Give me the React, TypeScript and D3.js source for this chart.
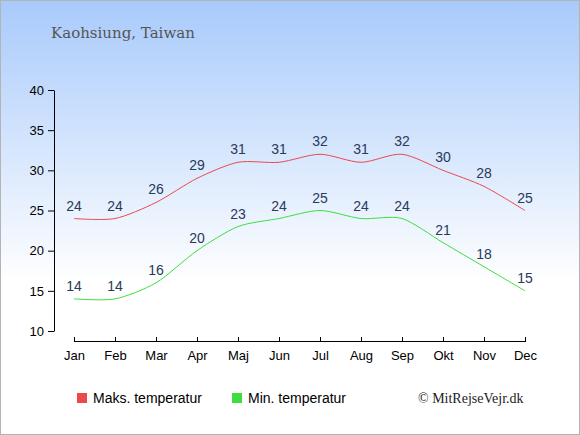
import React, { useEffect, useRef } from "react";
import * as d3 from "d3";

const months = ["Jan", "Feb", "Mar", "Apr", "Maj", "Jun", "Jul", "Aug", "Sep", "Okt", "Nov", "Dec"];
const maxTemps = [24, 24, 26, 29, 31, 31, 32, 31, 32, 30, 28, 25];
const minTemps = [14, 14, 16, 20, 23, 24, 25, 24, 24, 21, 18, 15];
const yTicks = [10, 15, 20, 25, 30, 35, 40];

const width = 580;
const height = 435;

const App: React.FC = () => {
  const svgRef = useRef<SVGSVGElement>(null);

  useEffect(() => {
    if (!svgRef.current) return;
    const svg = d3.select(svgRef.current);
    svg.selectAll("*").remove();

    // background gradient
    const defs = svg.append("defs");
    const grad = defs.append("linearGradient")
      .attr("id", "bg")
      .attr("x1", 0).attr("y1", 0).attr("x2", 0).attr("y2", 1);
    grad.append("stop").attr("offset", "0%").attr("stop-color", "#a8cafb");
    grad.append("stop").attr("offset", "65%").attr("stop-color", "#ffffff");
    grad.append("stop").attr("offset", "100%").attr("stop-color", "#ffffff");

    svg.append("rect")
      .attr("x", 0.5).attr("y", 0.5)
      .attr("width", width - 1).attr("height", height - 1)
      .attr("fill", "url(#bg)")
      .attr("stroke", "#b4b4b4")
      .attr("stroke-width", 1);

    svg.append("text")
      .attr("x", 51).attr("y", 38)
      .attr("font-family", "'DejaVu Serif', serif")
      .attr("font-size", 15)
      .attr("fill", "#555")
      .text("Kaohsiung, Taiwan");

    const x = d3.scalePoint<string>().domain(months).range([74, 525]);
    const y = d3.scaleLinear().domain([10, 40]).range([331, 90]);

    // y axis
    const yAxis = svg.append("g")
      .attr("transform", "translate(54,0)")
      .call(d3.axisLeft(y).tickValues(yTicks).tickSize(6).tickSizeOuter(0));
    yAxis.select(".domain").attr("stroke", "#000");
    yAxis.selectAll("text")
      .attr("font-family", "'Liberation Sans', Arial, sans-serif")
      .attr("font-size", 13)
      .attr("fill", "#000")
      .attr("dx", "-1");

    // x axis
    const xAxis = svg.append("g")
      .attr("transform", "translate(0,341)")
      .call(d3.axisBottom(x).tickSize(5).tickSizeOuter(0));
    xAxis.select(".domain").attr("d", `M${x("Jan")},0.5H${x("Dec")}`).attr("stroke", "#000");
    xAxis.selectAll("line").attr("y1", -4).attr("y2", 1);
    xAxis.selectAll("text")
      .attr("font-family", "'Liberation Sans', Arial, sans-serif")
      .attr("font-size", 13)
      .attr("fill", "#000")
      .attr("y", 10);

    const series = [
      { values: maxTemps, color: "#ea4a4a" },
      { values: minTemps, color: "#3ede3e" },
    ];

    const line = d3.line<number>()
      .x((_, i) => x(months[i]) as number)
      .y(d => y(d))
      .curve(d3.curveCardinal.tension(0.2));

    series.forEach(s => {
      svg.append("path")
        .datum(s.values)
        .attr("fill", "none")
        .attr("stroke", s.color)
        .attr("stroke-width", 1)
        .attr("d", line);

      svg.append("g")
        .selectAll("text")
        .data(s.values)
        .join("text")
        .attr("x", (_, i) => x(months[i]) as number)
        .attr("y", d => y(d) - 8)
        .attr("text-anchor", "middle")
        .attr("font-family", "'Liberation Sans', Arial, sans-serif")
        .attr("font-size", 14)
        .attr("fill", "#2a3a58")
        .text(d => d);
    });

    // legend
    const legend = [
      { label: "Maks. temperatur", color: "#ea4a4a", x: 77 },
      { label: "Min. temperatur", color: "#3ede3e", x: 232 },
    ];
    legend.forEach(l => {
      svg.append("rect")
        .attr("x", l.x).attr("y", 393)
        .attr("width", 10).attr("height", 10)
        .attr("fill", l.color);
      svg.append("text")
        .attr("x", l.x + 16).attr("y", 403)
        .attr("font-family", "'Liberation Sans', Arial, sans-serif")
        .attr("font-size", 14)
        .attr("fill", "#000")
        .text(l.label);
    });

    svg.append("text")
      .attr("x", 418).attr("y", 403)
      .attr("font-family", "'Liberation Serif', serif")
      .attr("font-size", 14)
      .attr("fill", "#222")
      .text("© MitRejseVejr.dk");
  }, []);

  return (
    <svg
      ref={svgRef}
      width={width}
      height={height}
      style={{ position: "absolute", left: 0, top: 0 }}
    />
  );
};

export default App;
